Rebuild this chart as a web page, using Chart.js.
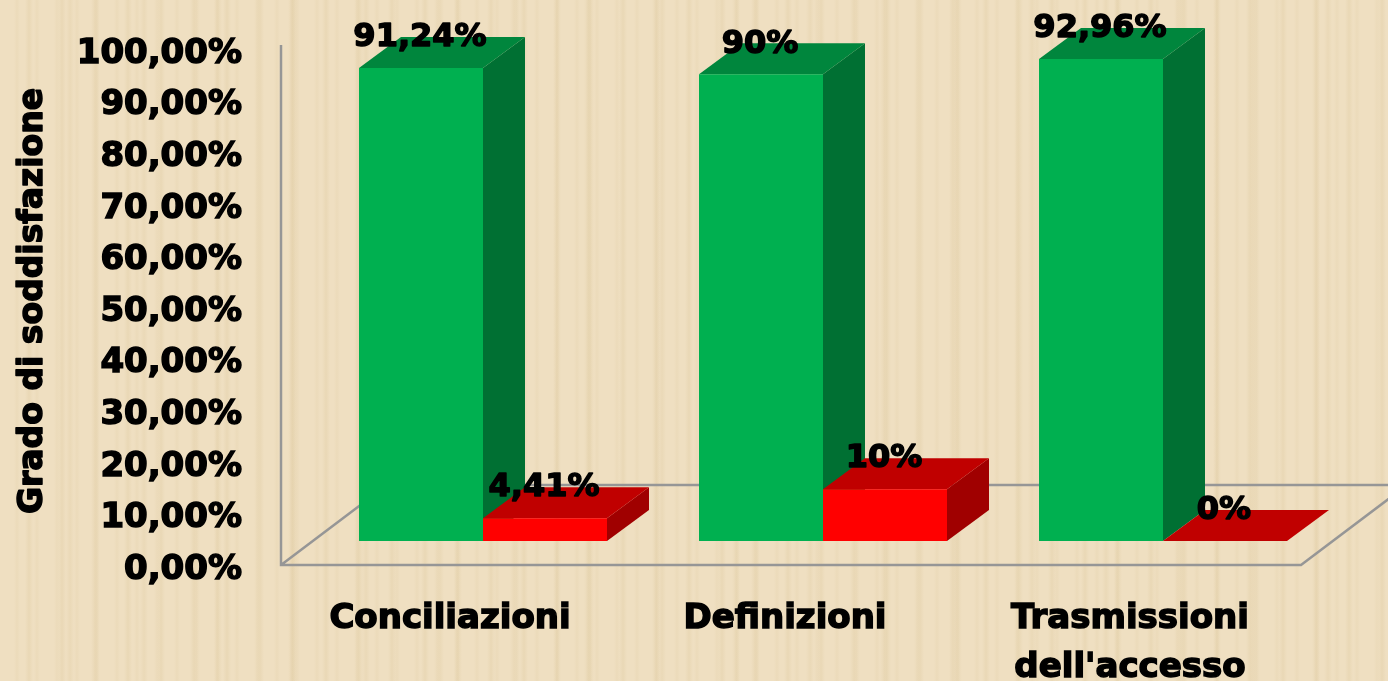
<!DOCTYPE html>
<html lang="it">
<head>
    <meta charset="UTF-8">
    <title>Grado di soddisfazione</title>
    <script src="https://cdn.jsdelivr.net/npm/chart.js"></script>
    <style>
        html, body {
            margin: 0;
            padding: 0;
            width: 1388px;
            height: 681px;
            overflow: hidden;
            background-color: #efdfc1;
            background-image:
                repeating-linear-gradient(90deg, rgba(205,180,125,0) 0 25px, rgba(205,180,125,0.17) 29px, rgba(205,180,125,0) 33px),
                repeating-linear-gradient(90deg, rgba(205,180,125,0) 0 14px, rgba(205,180,125,0.10) 17px, rgba(205,180,125,0) 20px),
                repeating-linear-gradient(90deg, rgba(205,180,125,0) 0 66px, rgba(205,180,125,0.14) 70px, rgba(205,180,125,0) 74px);
        }
        canvas { display: block; }
    </style>
</head>
<body>
    <canvas id="chart" width="1388" height="681"></canvas>
    <script>
        const categories = ['Conciliazioni', 'Definizioni', ['Trasmissioni', "dell'accesso"]];
        const greenValues = [91.24, 90, 92.96];
        const redValues = [4.41, 10, 0];
        const greenLabels = ['91,24%', '90%', '92,96%'];
        const redLabels = ['4,41%', '10%', '0%'];
        const yTickLabels = ['0,00%', '10,00%', '20,00%', '30,00%', '40,00%', '50,00%', '60,00%', '70,00%', '80,00%', '90,00%', '100,00%'];
        const yTitle = 'Grado di soddisfazione';

        const FONT = '"DejaVu Sans"';
        const DEPTH_X = 42, DEPTH_Y = 31;   // bar depth
        const WALL = '#969696';
        const X_LABEL_SHIFT = [-33, -38, -33];

        function face(ctx, pts, color) {
            ctx.fillStyle = color;
            ctx.beginPath();
            pts.forEach((p, i) => i ? ctx.lineTo(p[0], p[1]) : ctx.moveTo(p[0], p[1]));
            ctx.closePath();
            ctx.fill();
        }

        // floor + side wall lines, then the depth faces of the bars
        const bars3d = {
            id: 'bars3d',
            afterUpdate(chart) {
                // tick labels sit lower than the bars because of the perspective
                chart.scales.y.getLabelItems().forEach((it, i) => {
                    it.options.translation[1] += 29 + i * 0.25;
                });
                chart.scales.x.getLabelItems().forEach((it, i) => {
                    it.options.translation[0] += X_LABEL_SHIFT[i];
                });
            },
            beforeDatasetsDraw(chart) {
                const ctx = chart.ctx, a = chart.chartArea;
                const fl = a.bottom + 24, x0 = a.left - 32, x1 = a.right - 32;
                ctx.save();
                ctx.strokeStyle = WALL;
                ctx.lineWidth = 2.5;
                ctx.beginPath();
                ctx.moveTo(x0, 45);
                ctx.lineTo(x0, fl);
                ctx.lineTo(x1, fl);
                ctx.lineTo(x1 + 106, fl - 80);
                ctx.moveTo(x0, fl);
                ctx.lineTo(x0 + 106, fl - 80);
                ctx.lineTo(1388, fl - 80);
                ctx.stroke();

                const colors = [
                    { top: '#00863d', side: '#007033' },
                    { top: '#c00000', side: '#a00000' }
                ];
                categories.forEach((c, i) => {
                    [0, 1].forEach(d => {
                        const b = chart.getDatasetMeta(d).data[i];
                        const l = b.x - b.width / 2, r = b.x + b.width / 2;
                        if (b.base - b.y > 0) {
                            face(ctx, [[r, b.y], [r + DEPTH_X, b.y - DEPTH_Y], [r + DEPTH_X, b.base - DEPTH_Y], [r, b.base]], colors[d].side);
                        }
                        face(ctx, [[l, b.y], [l + DEPTH_X, b.y - DEPTH_Y], [r + DEPTH_X, b.y - DEPTH_Y], [r, b.y]], colors[d].top);
                    });
                });
                ctx.restore();
            },
            afterDatasetsDraw(chart) {
                const ctx = chart.ctx;
                ctx.save();
                ctx.fillStyle = '#000';
                ctx.strokeStyle = '#000';
                ctx.lineJoin = 'round';
                ctx.lineWidth = 1.5;
                ctx.textAlign = 'center';
                ctx.textBaseline = 'middle';
                ctx.font = 'bold 32px ' + FONT;
                [greenLabels, redLabels].forEach((labels, d) => {
                    chart.getDatasetMeta(d).data.forEach((b, i) => {
                        ctx.strokeText(labels[i], b.x - 1, b.y - 30);
                        ctx.fillText(labels[i], b.x - 1, b.y - 30);
                    });
                });
                // axis title
                ctx.translate(33, 301);
                ctx.rotate(-Math.PI / 2);
                ctx.font = 'bold 33px ' + FONT;
                ctx.strokeText(yTitle, 0, 0);
                ctx.fillText(yTitle, 0, 0);
                ctx.restore();
            }
        };

        new Chart(document.getElementById('chart').getContext('2d'), {
            type: 'bar',
            data: {
                labels: categories,
                datasets: [
                    { label: 'Soddisfatti', data: greenValues, backgroundColor: '#00b050' },
                    { label: 'Non soddisfatti', data: redValues, backgroundColor: '#ff0000' }
                ]
            },
            options: {
                responsive: false,
                animation: false,
                categoryPercentage: 248 / 340,
                barPercentage: 1,
                layout: { padding: { top: 22.5, right: 55, left: 0, bottom: 0 } },
                plugins: { legend: { display: false }, tooltip: { enabled: false } },
                scales: {
                    x: {
                        grid: { display: false, drawTicks: false },
                        border: { display: false },
                        afterFit(scale) { scale.height = 140; },
                        ticks: {
                            color: '#000',
                            autoSkip: false,
                            maxRotation: 0,
                            padding: 54,
                            textStrokeColor: '#000',
                            textStrokeWidth: 1.5,
                            font: { family: FONT, weight: 'bold', size: 34, lineHeight: 49 / 34 }
                        }
                    },
                    y: {
                        min: 0,
                        max: 100,
                        grid: { display: false, drawTicks: false },
                        border: { display: false },
                        afterFit(scale) {
                            scale.width = 313;
                            scale.paddingTop = 0;
                            scale.paddingBottom = 0;
                        },
                        ticks: {
                            stepSize: 10,
                            autoSkip: false,
                            color: '#000',
                            padding: 71,
                            textStrokeColor: '#000',
                            textStrokeWidth: 1.5,
                            font: { family: FONT, weight: 'bold', size: 34 },
                            callback: (v, i) => yTickLabels[i]
                        }
                    }
                }
            },
            plugins: [bars3d]
        });
    </script>
</body>
</html>
